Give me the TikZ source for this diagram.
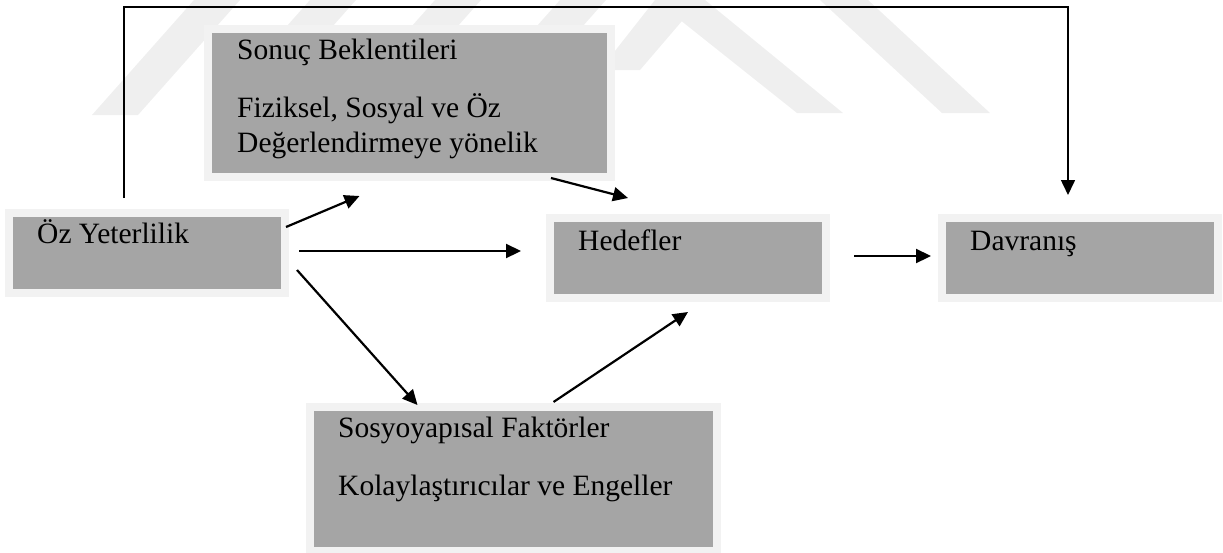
\documentclass[tikz,border=0pt]{standalone}
\usepackage{fontspec}
\setmainfont{Liberation Serif}
\usetikzlibrary{arrows.meta,calc}
\definecolor{boxfill}{HTML}{A5A5A5}
\definecolor{boxrim}{HTML}{F2F2F2}
\definecolor{wmark}{HTML}{EFEFEF}
\tikzset{
  panel/.style={rectangle, draw=boxrim, line width=8pt, fill=boxfill,
    outer sep=0pt, inner sep=0pt, anchor=north west},
  lbl/.style={inner sep=0pt, anchor=base west,
    font=\fontsize{29.5}{35}\selectfont},
  arr/.style={line width=2.2pt, -{Triangle[length=15pt,width=14pt]}},
  loop/.style={line width=1.6pt, -{Triangle[length=15pt,width=14pt]}},
}
\begin{document}
\begin{tikzpicture}[x=1pt,y=-1pt]
\useasboundingbox (0,0) rectangle (1223,552);

% faint background bands
\fill[wmark] (92,115) -- (138,115) -- (240,0) -- (194,0) -- cycle;
\fill[wmark] (208,115) -- (254,115) -- (356,0) -- (310,0) -- cycle;
\fill[wmark] (333,115) -- (379,115) -- (481,0) -- (435,0) -- cycle;
\fill[wmark] (458,115) -- (504,115) -- (606,0) -- (560,0) -- cycle;
\fill[wmark] (600,70) -- (640,70) -- (700,0) -- (655,0) -- cycle;
\fill[wmark] (655,0) -- (705,0) -- (843,113) -- (797,113) -- cycle;
\fill[wmark] (820,0) -- (868,0) -- (990,113) -- (942,113) -- cycle;

% boxes
\node[panel, minimum width=276pt, minimum height=80pt]  (oz)  at (9,213)   {};
\node[panel, minimum width=403pt, minimum height=148pt] (son) at (208,29)  {};
\node[panel, minimum width=276pt, minimum height=80pt]  (hed) at (550,218) {};
\node[panel, minimum width=276pt, minimum height=80pt]  (dav) at (942,218) {};
\node[panel, minimum width=407pt, minimum height=144pt] (sos) at (310,407) {};

% texts
\node[lbl] (tOz)   at (37,243)  {Öz Yeterlilik};
\node[lbl] (tSon1) at (237,59)  {Sonuç Beklentileri};
\node[lbl] (tSon2) at (237,117) {Fiziksel, Sosyal ve Öz};
\node[lbl] (tSon3) at (237,152) {Değerlendirmeye yönelik};
\node[lbl] (tHed)  at (578,250) {Hedefler};
\node[lbl] (tDav)  at (970,250) {Davranış};
\node[lbl] (tSos1) at (338,437) {Sosyoyapısal Faktörler};
\node[lbl] (tSos2) at (338,495) {Kolaylaştırıcılar ve Engeller};

% connectors
\draw[arr] ([xshift=1pt,yshift=-14pt]oz.north east) -- ([xshift=-50pt,yshift=-19pt]son.south);
\draw[arr] ([xshift=14pt,yshift=2pt]oz.east) -- ([xshift=-29pt,yshift=7pt]hed.west);
\draw[arr] ([xshift=12pt,yshift=23pt]oz.south east) -- ([xshift=-96pt,yshift=2pt]sos.north);
\draw[arr] ([xshift=-60pt,yshift=-1pt]son.south east) -- ([xshift=-60pt,yshift=20pt]hed.north);
\draw[arr] ([xshift=40pt,yshift=5pt]sos.north) -- ([yshift=-14pt]hed.south);
\draw[arr] ([xshift=28pt,yshift=2pt]hed.east) -- ([xshift=-11pt,yshift=2pt]dav.west);

% feedback line over the top
\coordinate (ridge) at (0,7);
\coordinate (fbS) at ([xshift=-23pt,yshift=15pt]oz.north);
\coordinate (fbE) at ([xshift=-12pt,yshift=23pt]dav.north);
\draw[loop] (fbS) -- (fbS |- ridge) -- (fbE |- ridge) -- (fbE);
\end{tikzpicture}
\end{document}
